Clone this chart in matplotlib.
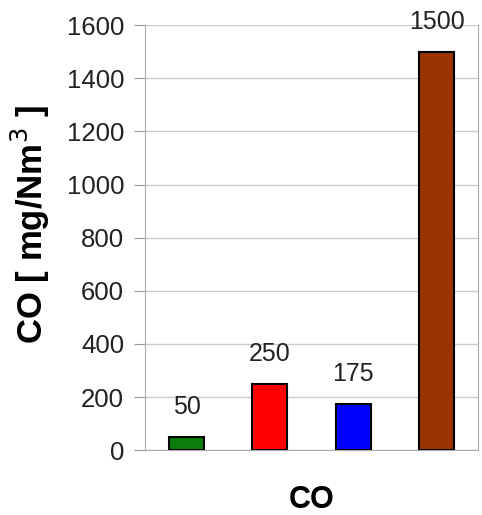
import matplotlib.pyplot as plt
import matplotlib

matplotlib.rcParams['font.family'] = ['Liberation Sans', 'DejaVu Sans']

# CO emission limits, one bar per source
sources = ["A", "B", "C", "D"]
co_values = [50, 250, 175, 1500]
bar_colors = ["#0a7d0a", "#ff0000", "#0000ff", "#993300"]

fig = plt.figure(figsize=(4.82, 5.15), dpi=100)
ax = fig.add_axes([0.301, 0.126, 0.691, 0.825])

x = list(range(len(co_values)))
bars = ax.bar(x, co_values, width=0.42, color=bar_colors,
              edgecolor="black", linewidth=1.5, zorder=3)

for xi, v in zip(x, co_values):
    ax.annotate(f"{v}", (xi, v), xytext=(0, 13), textcoords="offset points",
                ha="center", va="bottom", fontsize=18, color="#222222")

ax.set_xlim(-0.5, len(co_values) - 0.5)
ax.set_ylim(0, 1600)
ax.set_yticks(range(0, 1601, 200))
ax.set_xticks([])
ax.yaxis.grid(True, color="#cccccc", linewidth=1.0, zorder=0)
ax.tick_params(axis="y", labelsize=18.5, length=8, color="#999999",
               pad=7, labelcolor="#222222")

for side in ("left", "bottom", "right"):
    ax.spines[side].set_color("#aaaaaa")
ax.spines["top"].set_visible(False)

ax.set_ylabel("CO [ mg/Nm$^3$ ]", fontsize=25, fontweight="bold")
ax.yaxis.set_label_coords(-0.28, 0.53)
ax.set_xlabel("CO", fontsize=22, fontweight="bold", labelpad=25)

fig.savefig("out.png", dpi=100)
